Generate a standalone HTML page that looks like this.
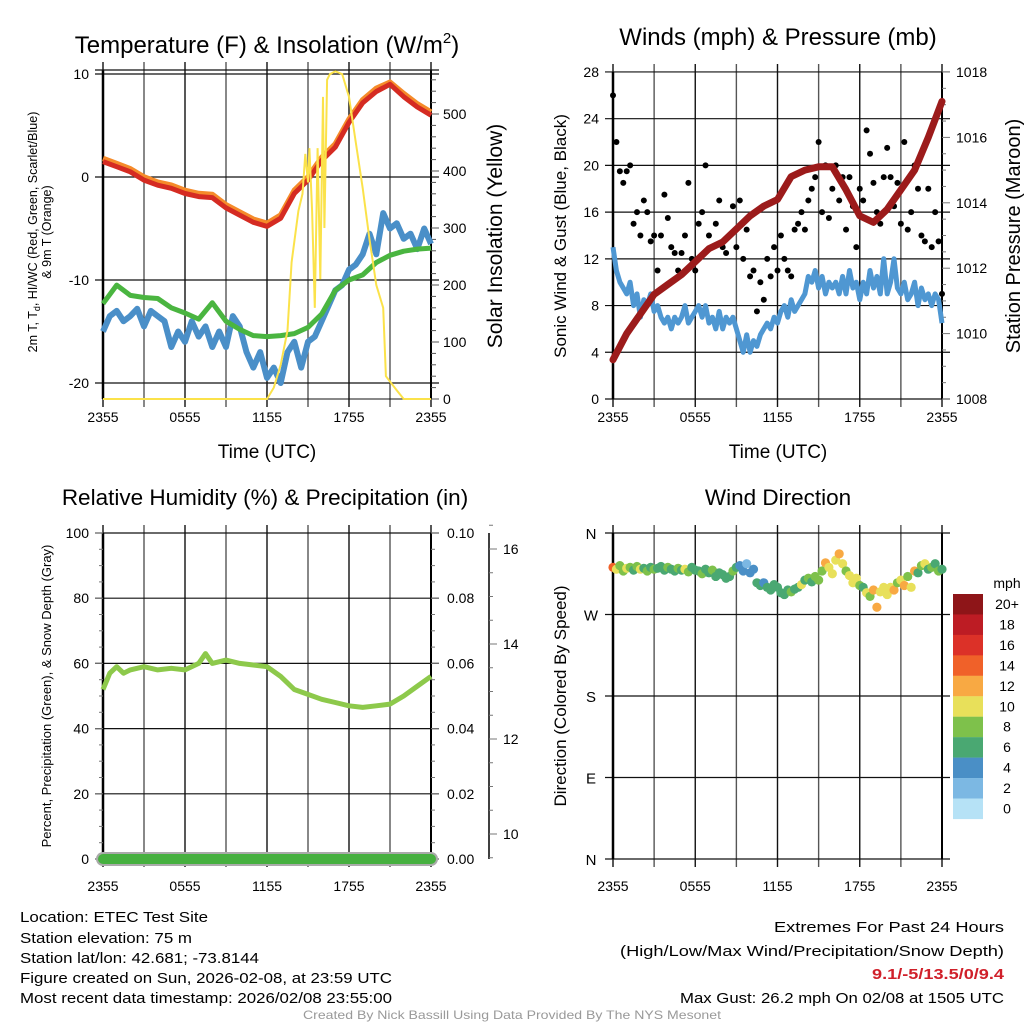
<!DOCTYPE html>
<html><head><meta charset="utf-8"><style>
html,body{margin:0;padding:0;background:#fff;}
svg{display:block;font-family:"Liberation Sans",Arial,sans-serif;}
</style></head><body>
<svg id="fig" width="1024" height="1024" viewBox="0 0 1024 1024">
<g id="p1"></g>
<g id="p2"></g>
<g id="p3"></g>
<g id="p4"></g>
<g font-size="15" fill="#000">
<text x="20" y="922" textLength="188" lengthAdjust="spacingAndGlyphs">Location: ETEC Test Site</text>
<text x="20" y="943" textLength="172" lengthAdjust="spacingAndGlyphs">Station elevation: 75 m</text>
<text x="20" y="963" textLength="239" lengthAdjust="spacingAndGlyphs">Station lat/lon: 42.681; -73.8144</text>
<text x="20" y="983" textLength="372" lengthAdjust="spacingAndGlyphs">Figure created on Sun, 2026-02-08, at 23:59 UTC</text>
<text x="20" y="1003" textLength="372" lengthAdjust="spacingAndGlyphs">Most recent data timestamp: 2026/02/08 23:55:00</text>
</g>
<g font-size="15" fill="#000">
<text x="774" y="932" textLength="230" lengthAdjust="spacingAndGlyphs">Extremes For Past 24 Hours</text>
<text x="620" y="956" textLength="384" lengthAdjust="spacingAndGlyphs">(High/Low/Max Wind/Precipitation/Snow Depth)</text>
<text x="872" y="979" textLength="132" lengthAdjust="spacingAndGlyphs" fill="#d0202a" font-weight="bold">9.1/-5/13.5/0/9.4</text>
<text x="680" y="1003" textLength="324" lengthAdjust="spacingAndGlyphs">Max Gust: 26.2 mph On 02/08 at 1505 UTC</text>
</g>
<text x="303" y="1019" textLength="418" lengthAdjust="spacingAndGlyphs" font-size="12" fill="#999">Created By Nick Bassill Using Data Provided By The NYS Mesonet</text>
</svg>
<script>
// ---------- data ----------
const xTickLabels = ["2355","0555","1155","1755","2355"];
const hourTimes = [0,1,2,3,4,5,6,7,8,9,10,11,12,13,14,15,16,17,18,19,20,21,22,23,24];
const temp2m = [1.5,1.0,0.5,-0.3,-0.8,-1.1,-1.6,-1.9,-2.0,-3.0,-3.7,-4.4,-4.8,-4.0,-1.6,-0.3,1.6,2.9,5.3,7.2,8.3,9.0,7.8,6.8,6.0];
const temp9m = [1.8,1.3,0.8,0.0,-0.5,-0.8,-1.3,-1.6,-1.7,-2.7,-3.4,-4.1,-4.5,-3.7,-1.3,0.0,1.9,3.2,5.6,7.5,8.6,9.2,8.1,7.1,6.3];
const dewpoint = [-12.3,-10.5,-11.5,-11.7,-11.8,-12.7,-13.2,-13.8,-12.2,-14.0,-14.8,-15.4,-15.5,-15.4,-15.2,-14.6,-13.3,-11.0,-10.0,-9.5,-8.3,-7.6,-7.2,-7.0,-6.9];
const halfTimes = [0,0.5,1,1.5,2,2.5,3,3.5,4,4.5,5,5.5,6,6.5,7,7.5,8,8.5,9,9.5,10,10.5,11,11.5,12,12.5,13,13.5,14,14.5,15,15.5,16,16.5,17,17.5,18,18.5,19,19.5,20,20.5,21,21.5,22,22.5,23,23.5,24];
const windChill = [-15,-13.5,-13,-14,-13.5,-12.8,-14.5,-13,-13.5,-14,-16.5,-15,-16,-14,-15.5,-14.5,-16.5,-15,-16.5,-13.5,-14.5,-17,-18.5,-17,-19.5,-18.5,-20,-17,-16,-18.5,-16,-15.5,-14,-12.5,-11,-10.5,-9,-8.5,-7.5,-5.5,-7.5,-3.5,-5,-4.5,-6,-5.5,-7,-5,-6.5];
const solarTimes = [0,12,12.5,13,13.5,13.8,14.3,14.6,14.8,15.0,15.1,15.3,15.5,15.7,15.9,16.1,16.2,16.4,16.6,17,17.5,18,18.5,19,19.5,20,20.5,20.7,21.5,22,24];
const solar = [0,0,20,60,120,240,330,360,430,380,440,330,160,440,210,530,300,560,570,575,570,530,450,370,280,200,160,40,15,0,0];
const q15 = Array.from({length:97},(_, i)=>i/4);
const windSpeed = [13,11,10,9.5,9, 10,8,9,7,8.5,8,9,7.5, 8,7,6.5,7,6,7,6.5,7,8,6.5,7,7.5, 8,7,8,6.5,7,6,7.5,6,7,6.5,7,6, 5,4,5.5,4,5,4.5, 5.5,6,6.5,6,7,6.5, 7.5,8,7,8.5,7.5,8,8.5,9, 10.5,10,11,9.5,10.5,9,10,9.5, 10,9,10.5,9,11,9.5,10,8.5,10,9,11,9.5,10.5,9,12,9, 10,12,9.5,9,10,8.5,9,10,8,9.5,8.5,9,8,9,8.5,6.5];
const windGust = [26,22,19.5,18.5,19.5, 20,15,16,14,17,16,13.5,14, 11,14,17.5,15.5,13,12.5,11,12.5,14,18.5,12,11, 15,16,20,14,13,15,17,13,12.5,14,16.5,13, 17,12,14.5,10.5,11,7.5, 10,8.5,12,10.5,13,11, 14,12,11,10.5,14.5,15,16,14.5, 17,18,19,22,16,20,15.5,18, 20,17,19,14.5,19,16.5,13,18,17,23,21,18.5,16,15,19,21.5, 19,16.5,18.5,15,22,14.5,16,20,18,14,13.5,18,13,16,13.5,9];
const pressure = [1009.2,1010.0,1010.6,1011.2,1011.5,1011.8,1012.2,1012.6,1012.8,1013.2,1013.6,1013.9,1014.1,1014.8,1015.0,1015.1,1015.1,1014.4,1013.6,1013.4,1013.8,1014.4,1015.0,1016.0,1017.1];
const rhTimes = [0,0.5,1,1.5,2,3,4,5,6,7,7.5,8,9,10,11,12,13,14,15,16,17,18,19,20,21,22,23,24];
const relHumidity = [52,57,59,57,58,59,58,58.5,58,60,63,60,61,60,59.5,59,56,52,50.5,49,48,47,46.5,47,47.5,50,53,56];
const precip = [0,0];
const precipTimes = [0,24];
const windDir = [322,320,324,318,321, 322,319,323,320,321,318,322,320, 321,323,319,322,320,318,321,319,320,317,322,319, 318,315,320,316,319,312,316,314,310,312,318,322, 324,318,326,316,320,305, 302,305,300,297,303,300, 294,292,297,295,298,300,303,308, 310,306,312,308,318,327,322,315, 330,337,326,318,313,305,310,302,300,294,290,297,278,295,300,292, 300,297,305,308,302,312,300,318,316,324,326,320,322,326,318,320];
const dirSpeed = [14,10,9,8,10, 8,7,8,10,7,8,7,8, 7,6,7,8,6,7,8,6,10,8,7,6, 7,8,6,7,8,6,7,6,7,6,8,6, 4,4,3.5,4,5,6, 6,4,6,6,7,6, 6,7,6,8,7,6,10,7, 8,7,8,8,9,12,10,11, 11,12,10,8,10,11,10,8,7,10,8,13,12,10,11,10, 10,12,8,10,13,8,10,12,7,8,10,7,8,7,8,6];
const legendLabels = ["20+","18","16","14","12","10","8","6","4","2","0"];
const legendColors = ["#8e1518","#bd1c24","#dc3128","#f06129","#f8a943","#e8e05a","#7ec14b","#4aa872","#4a8fc6","#7cb8e3","#b6e2f6"];

// ---------- helpers ----------
const NS="http://www.w3.org/2000/svg";
function mk(parent,tag,attrs){const e=document.createElementNS(NS,tag);for(const k in attrs)e.setAttribute(k,attrs[k]);parent.appendChild(e);return e;}
function txt(parent,x,y,s,size,anchor,extra){const t=mk(parent,"text",Object.assign({x:x,y:y,"font-size":size,"text-anchor":anchor||"middle"},extra||{}));t.textContent=s;return t;}
function pathD(xs,ys,fx,fy){return xs.map((v,i)=>(i?"L":"M")+fx(v).toFixed(1)+","+fy(ys[i]).toFixed(1)).join("");}
const X0=103,X1=431,X0b=613,X1b=942;
function xs(L,R){return h=>L+(R-L)*h/24;}

function frame(g,L,R,T,B,hTicks,fy,lblOff){
  for(let h=0;h<=24;h+=3){const x=xs(L,R)(h);
    const l=mk(g,"line",{x1:x,y1:T-8,x2:x,y2:B+8,stroke:(h%6==0)?"#111":"#555","stroke-width":1.4});
    
    
  }
  hTicks.forEach(v=>{const y=fy(v);
    const l=mk(g,"line",{x1:L-8,y1:y,x2:R+8,y2:y,stroke:"#111","stroke-width":1.2});
    
    
  });
  mk(g,"line",{x1:L,y1:T,x2:L,y2:B,stroke:"#000","stroke-width":2.5});
  mk(g,"line",{x1:R,y1:T,x2:R,y2:B,stroke:"#000","stroke-width":2});
  const X=xs(L,R);
  xTickLabels.forEach((s,i)=>{const t=txt(g,X(i*6),B+lblOff,s,14);
    
    });
}

// ---------- panel 1 ----------
(function(){
  const g=document.getElementById("p1");
  const X=xs(X0,X1), Y=v=>177-v*10.3, S=v=>399-v*0.57;
  frame(g,X0,X1,70,399,[10,0,-10,-20],Y,23);
  mk(g,"line",{x1:X0-8,y1:70,x2:X1+8,y2:70,stroke:"#111","stroke-width":1.2});
  mk(g,"line",{x1:X0,y1:399,x2:X1,y2:399,stroke:"#111","stroke-width":1});
  [10,0,-10,-20].forEach(v=>{const t=txt(g,X0-14,Y(v)+5,String(v),14,"end");
    });
  for(let v=0;v<=570;v+=20){mk(g,"line",{x1:X1,y1:S(v),x2:X1+(v%100==0?8:5),y2:S(v),stroke:"#555","stroke-width":1});}
  [0,100,200,300,400,500].forEach(v=>{const t=txt(g,X1+12,S(v)+5,String(v),14,"start");
    });
  const series=[[halfTimes,windChill,"#4a8fc8",6,"wind-chill-line"],[hourTimes,dewpoint,"#4ab540",5,"dewpoint-line"],[hourTimes,temp9m,"#f58b2a",5.5,"temp-9m-line"],[hourTimes,temp2m,"#d52b22",5,"temp-2m-line"]];
  series.forEach(s=>{const p=mk(g,"path",{d:pathD(s[0],s[1],X,Y),fill:"none",stroke:s[2],"stroke-width":s[3],"stroke-linejoin":"round"});
    });
  const sp=mk(g,"path",{d:pathD(solarTimes,solar,X,S),fill:"none",stroke:"#fbe24a","stroke-width":2});
  
  const t1=txt(g,267,53,"Temperature (F) & Insolation (W/m",24,"middle");
  
  const ts=mk(t1,"tspan",{dy:-10,"font-size":15});ts.textContent="2";
  const ts2=mk(t1,"tspan",{dy:10});ts2.textContent=")";
  const xt=txt(g,267,458,"Time (UTC)",19);
  const yr=txt(g,0,0,"Solar Insolation (Yellow)",21,"middle",{transform:"translate(502,236) rotate(-90)"});
  
  const yl=txt(g,0,0,"",12.5,"middle",{transform:"translate(37,232) rotate(-90)"});
  
  yl.innerHTML='2m T, T<tspan font-size="9" dy="3">d</tspan><tspan dy="-3">, HI/WC (Red, Green, Scarlet/Blue)</tspan>';
  const yl2=txt(g,0,0,"& 9m T (Orange)",12.5,"middle",{transform:"translate(51,232) rotate(-90)"});
  
})();

// ---------- panel 2 ----------
(function(){
  const g=document.getElementById("p2");
  const X=xs(X0b,X1b), Y=v=>399-v*11.68, P=v=>399-(v-1008)*32.7;
  frame(g,X0b,X1b,72,399,[28,24,20,16,12,8,4,0],Y,23);
  [0,4,8,12,16,20,24,28].forEach(v=>{const t=txt(g,X0b-14,Y(v)+5,String(v),14,"end");
    });
  for(let v=1008;v<=1018;v+=0.5){mk(g,"line",{x1:X1b,y1:P(v),x2:X1b+(v%2==0?8:4),y2:P(v),stroke:"#777","stroke-width":1});}
  [1008,1010,1012,1014,1016,1018].forEach(v=>{const t=txt(g,X1b+14,P(v)+5,String(v),14,"start");
    });
  const w=mk(g,"path",{d:pathD(q15,windSpeed,X,Y),fill:"none",stroke:"#4f97d2","stroke-width":5,"stroke-linejoin":"round"});
  
  windGust.forEach((v,i)=>{const c=mk(g,"circle",{cx:X(q15[i]),cy:Y(v),r:3,fill:"#000"});
    });
  const p=mk(g,"path",{d:pathD(hourTimes,pressure,X,P),fill:"none",stroke:"#9c1b1b","stroke-width":7,"stroke-linejoin":"round","stroke-linecap":"round"});
  
  const t1=txt(g,778,45,"Winds (mph) & Pressure (mb)",24);
  const xt=txt(g,778,458,"Time (UTC)",19);
  const yl=txt(g,0,0,"Sonic Wind & Gust (Blue, Black)",17,"middle",{transform:"translate(566,236) rotate(-90)"});
  
  const yr=txt(g,0,0,"Station Pressure (Maroon)",20,"middle",{transform:"translate(1020,236) rotate(-90)"});
  
})();

// ---------- panel 3 ----------
(function(){
  const g=document.getElementById("p3");
  const X=xs(X0,X1), Y=v=>859-v*3.26, PR=v=>859-v*3260, SN=v=>834-(v-10)*47.5;
  frame(g,X0,X1,533,859,[100,80,60,40,20,0],Y,32);
  [0,20,40,60,80,100].forEach(v=>{const t=txt(g,X0-14,Y(v)+5,String(v),14,"end");
    });
  for(let v=0;v<=100;v+=5){mk(g,"line",{x1:X0-(v%20==0?8:4),y1:Y(v),x2:X0,y2:Y(v),stroke:"#777","stroke-width":1});mk(g,"line",{x1:X1,y1:Y(v),x2:X1+(v%20==0?8:4),y2:Y(v),stroke:"#777","stroke-width":1});}
  ["0.00","0.02","0.04","0.06","0.08","0.10"].forEach((s,i)=>{const t=txt(g,X1+16,Y(i*20)+5,s,14,"start");
    });
  mk(g,"line",{x1:489,y1:533,x2:489,y2:859,stroke:"#000","stroke-width":1.5});
  for(let v=9.5;v<=16.5;v+=0.5){mk(g,"line",{x1:489,y1:SN(v),x2:489+(v%2==0?8:4),y2:SN(v),stroke:"#777","stroke-width":1});}
  [10,12,14,16].forEach(v=>{const t=txt(g,503,SN(v)+5,String(v),14,"start");
    });
  const pg=mk(g,"path",{d:pathD(precipTimes,precip,X,PR),fill:"none",stroke:"#aaa","stroke-width":14,"stroke-linecap":"round"});
  
  const pp=mk(g,"path",{d:pathD(precipTimes,precip,X,PR),fill:"none",stroke:"#46b03f","stroke-width":10,"stroke-linecap":"round"});
  
  const rh=mk(g,"path",{d:pathD(rhTimes,relHumidity,X,Y),fill:"none",stroke:"#8dc94b","stroke-width":5,"stroke-linejoin":"round"});
  
  const t1=txt(g,265,505,"Relative Humidity (%) & Precipitation (in)",22.5);
  const yl=txt(g,0,0,"Percent, Precipitation (Green), & Snow Depth (Gray)",13,"middle",{transform:"translate(51,696) rotate(-90)"});
  
})();

// ---------- panel 4 ----------
(function(){
  const g=document.getElementById("p4");
  const X=xs(X0b,X1b), Y=v=>859-v*0.9056;
  frame(g,X0b,X1b,533,859,[360,270,180,90,0],Y,32);
  [["N",360],["W",270],["S",180],["E",90],["N",0]].forEach(a=>{const t=txt(g,X0b-22,Y(a[1])+6,a[0],15,"middle");
    });
  function col(s){let k=Math.min(10,Math.floor(s/2));return legendColors[10-k];}
  windDir.forEach((d,i)=>{const c=mk(g,"circle",{cx:X(q15[i]),cy:Y(d),r:4.6,fill:col(dirSpeed[i])});
    });
  legendColors.forEach((c,i)=>{const r=mk(g,"rect",{x:953,y:594+i*20.45,width:30,height:20.6,fill:c});
    
    const t=txt(g,1007,609+i*20.45,legendLabels[i],14);
    });
  const m=txt(g,1007,588,"mph",14);
  const t1=txt(g,778,505,"Wind Direction",22.5);
  const yl=txt(g,0,0,"Direction (Colored By Speed)",17,"middle",{transform:"translate(566,696) rotate(-90)"});
  
})();
</script>
</body></html>
